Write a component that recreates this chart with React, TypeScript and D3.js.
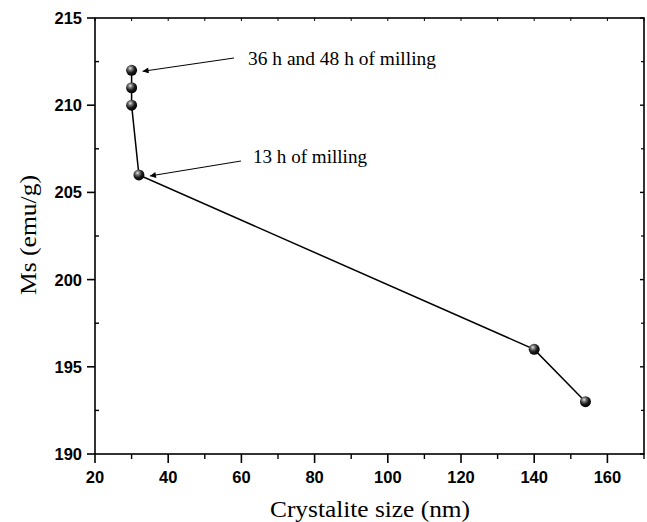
import * as d3 from 'd3';

const crystaliteSize = [30, 30, 30, 32, 140, 154];
const ms = [212, 211, 210, 206, 196, 193];
const xTicks = [20, 40, 60, 80, 100, 120, 140, 160];
const yTicks = [190, 195, 200, 205, 210, 215];
const notes = [
  { text: '36 h and 48 h of milling', x: 30, y: 212, tx: 248, ty: 65, len: 188, ax: 234, ay: 58 },
  { text: '13 h of milling', x: 32, y: 206, tx: 253, ty: 163, len: 114, ax: 241, ay: 161 },
];

const App = () => {
  const width = 647;
  const height = 522;
  const margin = { top: 18, right: 3, bottom: 68, left: 95 };
  const innerWidth = width - margin.left - margin.right;
  const innerHeight = height - margin.top - margin.bottom;

  const xScale = d3.scaleLinear().domain([20, 170]).range([0, innerWidth]);
  const yScale = d3.scaleLinear().domain([190, 215]).range([innerHeight, 0]);

  const points = crystaliteSize.map((x, i) => ({ x, y: ms[i] }));
  const line = d3.line<any>()
    .x((d) => xScale(d.x))
    .y((d) => yScale(d.y));

  const xMinor = d3.range(30, 171, 20);
  const yMinor = d3.range(192.5, 215, 5);
  const xAll = d3.range(20, 171, 10);

  const sans = '"Liberation Sans", Arial, sans-serif';
  const serif = '"Liberation Serif", "Times New Roman", serif';

  return (
    <svg width={width} height={height} style={{ position: 'absolute', left: 0, top: 0, background: '#fff' }}>
      <defs>
        <radialGradient id="ball" cx="0.38" cy="0.32" r="0.7">
          <stop offset="0" stopColor="#e8e8e8" />
          <stop offset="0.25" stopColor="#7a7a7a" />
          <stop offset="0.6" stopColor="#1a1a1a" />
          <stop offset="1" stopColor="#000" />
        </radialGradient>
        <marker id="arrow" viewBox="0 0 10 10" refX="10" refY="5" markerWidth="10" markerHeight="6" markerUnits="userSpaceOnUse" orient="auto">
          <path d="M0,0 L10,5 L0,10 z" fill="#000" />
        </marker>
      </defs>
      <g transform={`translate(${margin.left}, ${margin.top})`}>
        {/* frame */}
        <rect x={0} y={0} width={innerWidth} height={innerHeight} fill="none" stroke="#000" strokeWidth={1.6} />

        {/* bottom axis */}
        {xTicks.map((t) => (
          <g key={t} transform={`translate(${xScale(t)}, ${innerHeight})`}>
            <line y1={0} y2={9} stroke="#000" strokeWidth={1.6} />
            <text y={29} textAnchor="middle" fontFamily={sans} fontWeight="bold" fontSize={16.5}>{t}</text>
          </g>
        ))}
        {xMinor.map((t) => (
          <line key={t} x1={xScale(t)} x2={xScale(t)} y1={innerHeight} y2={innerHeight + 5} stroke="#000" strokeWidth={1.4} />
        ))}
        {/* top ticks */}
        {xAll.map((t) => (
          <line key={t} x1={xScale(t)} x2={xScale(t)} y1={0} y2={3} stroke="#000" strokeWidth={1} />
        ))}

        {/* left axis */}
        {yTicks.map((t) => (
          <g key={t} transform={`translate(0, ${yScale(t)})`}>
            <line x1={-8} x2={0} stroke="#000" strokeWidth={1.6} />
            <text x={-13} y={6} textAnchor="end" fontFamily={sans} fontWeight="bold" fontSize={16.5}>{t}</text>
            <line x1={innerWidth - 4} x2={innerWidth} stroke="#000" strokeWidth={1.4} />
          </g>
        ))}
        {yMinor.map((t) => (
          <g key={t} transform={`translate(0, ${yScale(t)})`}>
            <line x1={0} x2={4} stroke="#000" strokeWidth={1.4} />
            <line x1={innerWidth - 3} x2={innerWidth} stroke="#000" strokeWidth={1.2} />
          </g>
        ))}

        {/* data */}
        <path d={line(points)!} fill="none" stroke="#000" strokeWidth={1.5} />
        {points.map((p, i) => (
          <circle key={i} cx={xScale(p.x)} cy={yScale(p.y)} r={5.5} fill="url(#ball)" />
        ))}

        {/* annotations */}
        {notes.map((n, i) => (
          <g key={i}>
            <line
              x1={n.ax - margin.left}
              y1={n.ay - margin.top}
              x2={xScale(n.x) + 11}
              y2={yScale(n.y) + 1}
              stroke="#000"
              strokeWidth={1}
              markerEnd="url(#arrow)"
            />
            <text x={n.tx - margin.left} y={n.ty - margin.top} fontFamily={serif} fontSize={18}
              textLength={n.len} lengthAdjust="spacingAndGlyphs">{n.text}</text>
          </g>
        ))}
      </g>

      <text x={370} y={517} textAnchor="middle" fontFamily={serif} fontSize={23}
        textLength={200} lengthAdjust="spacingAndGlyphs">Crystalite size (nm)</text>
      <text transform={`translate(36, 235) rotate(-90)`} textAnchor="middle" fontFamily={serif} fontSize={23}
        textLength={120} lengthAdjust="spacingAndGlyphs">Ms (emu/g)</text>
    </svg>
  );
};

export default App;
